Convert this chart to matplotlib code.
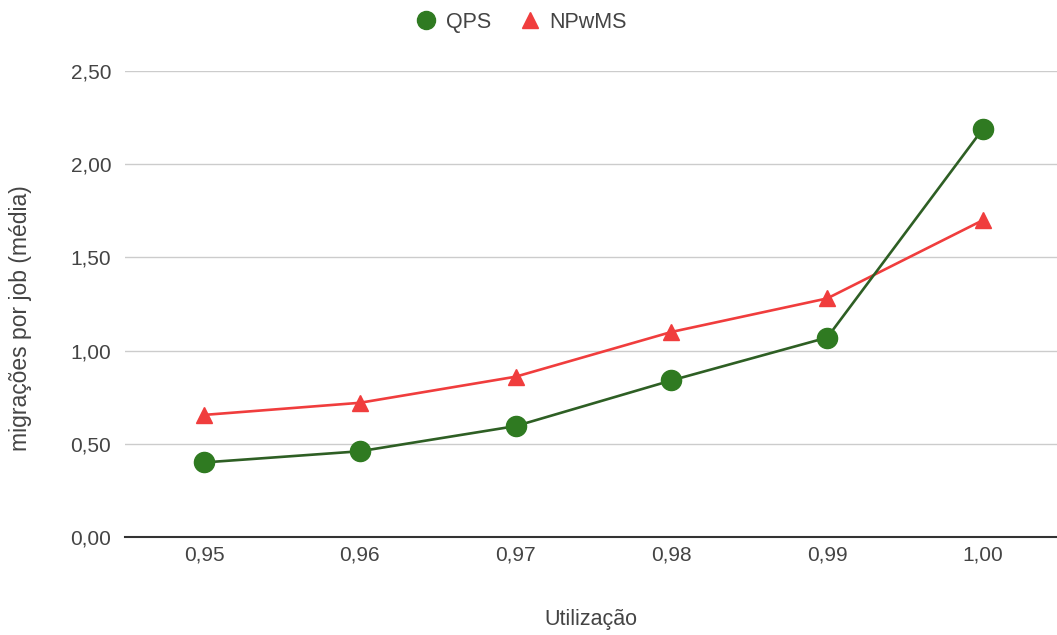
import matplotlib.pyplot as plt
from matplotlib.lines import Line2D

plt.rcParams['font.family'] = ['Liberation Sans', 'DejaVu Sans']

utilizacao = ['0,95', '0,96', '0,97', '0,98', '0,99', '1,00']
qps = [0.40, 0.46, 0.595, 0.84, 1.07, 2.19]
npwms = [0.655, 0.72, 0.86, 1.10, 1.28, 1.70]
y_ticks = [0.0, 0.5, 1.0, 1.5, 2.0, 2.5]
y_tick_labels = ['0,00', '0,50', '1,00', '1,50', '2,00', '2,50']

green_marker = '#2f7a21'
green_line = '#2e5f24'
red = '#f03d3d'
text_color = '#444444'

fig = plt.figure(figsize=(10.57, 6.35), dpi=100)
ax = fig.add_axes([0.1183, 0.1543, 0.8817, 0.7339])

x = list(range(len(utilizacao)))
ax.plot(x, npwms, color=red, lw=1.9, marker='^', ms=12,
        markerfacecolor=red, markeredgecolor=red, zorder=3)
ax.plot(x, qps, color=green_line, lw=1.9, marker='o', ms=14.5,
        markerfacecolor=green_marker, markeredgecolor=green_marker, zorder=4)

ax.set_xlim(-0.507, 5.475)
ax.set_ylim(0, 2.5)
ax.set_xticks(x)
ax.set_xticklabels(utilizacao)
ax.set_yticks(y_ticks)
ax.set_yticklabels(y_tick_labels)
ax.tick_params(length=0, labelsize=15, labelcolor=text_color)
ax.tick_params(axis='x', pad=6)
ax.tick_params(axis='y', pad=10)

ax.grid(axis='y', color='#cccccc', lw=1)
ax.set_axisbelow(True)
for side in ['top', 'right', 'left']:
    ax.spines[side].set_visible(False)
ax.spines['bottom'].set_color('#333333')
ax.spines['bottom'].set_linewidth(1.5)
ax.spines['bottom'].set_zorder(2)

ax.set_xlabel('Utilização', fontsize=15.5, color=text_color, labelpad=32)
ax.set_ylabel('migrações por job (média)', fontsize=16.5, color=text_color, labelpad=30)
ax.yaxis.set_label_coords(-0.1, 0.47)

handles = [
    Line2D([], [], ls='none', marker='o', ms=13, color=green_marker),
    Line2D([], [], ls='none', marker='^', ms=11, color=red),
]
fig.legend(handles, ['QPS', 'NPwMS'], loc='upper center', bbox_to_anchor=(0.49, 1.012),
           ncol=2, frameon=False, fontsize=15.5, labelcolor=text_color,
           handletextpad=0.1, columnspacing=1.0, handlelength=1.6)

fig.savefig('out.png', dpi=100)
